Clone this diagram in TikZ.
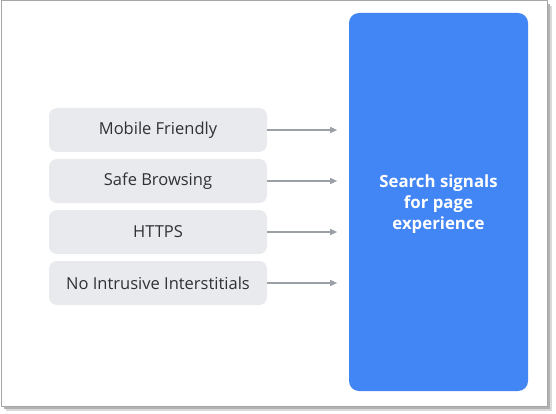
\documentclass[tikz,border=0pt]{standalone}
\usepackage{fontspec}
\setmainfont{Open Sans}
\usetikzlibrary{arrows.meta}
\definecolor{gblue}{HTML}{4285F4}
\definecolor{gboxfill}{HTML}{E8EAED}
\definecolor{gtext}{HTML}{303134}
\definecolor{garrow}{HTML}{9AA0A6}
\begin{document}
\begin{tikzpicture}[x=1pt,y=-1pt,
  signal/.style={rounded corners=8pt, fill=gboxfill, text=gtext, minimum width=218pt, minimum height=44pt, font=\fontsize{16.5}{19}\selectfont, inner sep=0pt},
  flow/.style={draw=garrow, line width=1.2pt, -{Triangle[length=7pt,width=6pt]}}]
\useasboundingbox (0,0) rectangle (556,414);
% frame with shadow
\fill[gray!30] (6,6) rectangle (552,411);
\fill[gray!60] (4,4) rectangle (550,409);
\draw[fill=white, draw=gray!70, line width=1pt] (1,1) rectangle (547,406);
% blue box
\node[fill=gblue, rounded corners=10pt, minimum width=179pt, minimum height=378pt, inner sep=0pt] (sig) at (438.5,202) {};
\node[text=white, align=center, font=\fontsize{16.8}{21}\selectfont\bfseries, inner sep=0pt] (sigtext) at (438.5,204) {Search signals\\for page\\experience};
\node[signal] (m) at (158,130) {Mobile Friendly};
\node[signal] (s) at (158,181) {Safe Browsing};
\node[signal] (h) at (158,232) {HTTPS};
\node[signal] (n) at (158,283) {No Intrusive Interstitials};
\foreach \a in {m,s,h,n}{
  \draw[flow] (\a.east) -- ++(70,0) coordinate (\a-end);
}
\end{tikzpicture}
\end{document}
